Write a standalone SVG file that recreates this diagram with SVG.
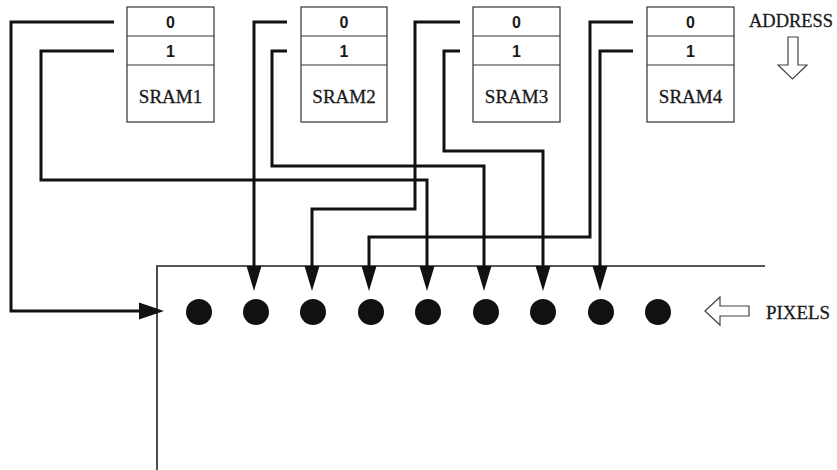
<svg xmlns="http://www.w3.org/2000/svg" width="837" height="470" viewBox="0 0 837 470">
<defs>
<style>
.box{fill:#fff;stroke:#333;stroke-width:1.2}
.num{font-family:"Liberation Sans",Arial,sans-serif;font-size:16px;font-weight:bold;fill:#1a1a1a;text-anchor:middle}
.lbl{font-family:"Liberation Serif","Times New Roman",serif;font-size:19px;fill:#1a1a1a;stroke:#1a1a1a;stroke-width:0.3}
.wire{fill:none;stroke:#111;stroke-width:3;stroke-linejoin:miter}
.head{fill:#111}
.frame{fill:none;stroke:#222;stroke-width:1.6}
.pix{fill:#111}
.hollow{fill:#fff;stroke:#444;stroke-width:1.2}
</style>
</defs>
<rect width="837" height="470" fill="#fff"/>
<g id="sram1">
<rect class="box" x="127" y="7" width="87" height="115"/>
<line class="box" x1="127" y1="36" x2="214" y2="36"/>
<line class="box" x1="127" y1="65" x2="214" y2="65"/>
<text class="num" x="170.5" y="28">0</text>
<text class="num" x="170.5" y="57">1</text>
<text class="lbl" x="170.5" y="103" text-anchor="middle">SRAM1</text>
</g>
<g id="sram2">
<rect class="box" x="301" y="7" width="86" height="115"/>
<line class="box" x1="301" y1="36" x2="387" y2="36"/>
<line class="box" x1="301" y1="65" x2="387" y2="65"/>
<text class="num" x="344" y="28">0</text>
<text class="num" x="344" y="57">1</text>
<text class="lbl" x="344" y="103" text-anchor="middle">SRAM2</text>
</g>
<g id="sram3">
<rect class="box" x="473" y="7" width="87" height="115"/>
<line class="box" x1="473" y1="36" x2="560" y2="36"/>
<line class="box" x1="473" y1="65" x2="560" y2="65"/>
<text class="num" x="516.5" y="28">0</text>
<text class="num" x="516.5" y="57">1</text>
<text class="lbl" x="516.5" y="103" text-anchor="middle">SRAM3</text>
</g>
<g id="sram4">
<rect class="box" x="647" y="7" width="87" height="115"/>
<line class="box" x1="647" y1="36" x2="734" y2="36"/>
<line class="box" x1="647" y1="65" x2="734" y2="65"/>
<text class="num" x="690.5" y="28">0</text>
<text class="num" x="690.5" y="57">1</text>
<text class="lbl" x="690.5" y="103" text-anchor="middle">SRAM4</text>
</g>
<g id="address">
<text class="lbl" x="749" y="27" textLength="84" lengthAdjust="spacingAndGlyphs">ADDRESS</text>
<path class="hollow" d="M788,37 L798,37 L798,65 L807,65 L792.5,79 L778,65 L788,65 z"/>
</g>
<g id="frame">
<polyline class="frame" points="765,266 157,266 157,470"/>
</g>
<g id="pixels">
<circle class="pix" cx="199" cy="312" r="13"/>
<circle class="pix" cx="256" cy="312" r="13"/>
<circle class="pix" cx="313" cy="312" r="13"/>
<circle class="pix" cx="371" cy="312" r="13"/>
<circle class="pix" cx="428" cy="312" r="13"/>
<circle class="pix" cx="486" cy="312" r="13"/>
<circle class="pix" cx="543" cy="312" r="13"/>
<circle class="pix" cx="601" cy="312" r="13"/>
<circle class="pix" cx="658" cy="312" r="13"/>
</g>
<g id="pixels-label">
<path class="hollow" d="M705,311 L720,297 L720,306 L749,306 L749,316 L720,316 L720,325 z"/>
<text class="lbl" x="766" y="319" textLength="64" lengthAdjust="spacingAndGlyphs">PIXELS</text>
</g>
<g id="connectors">
<polyline class="wire" points="114,22 11,22 11,311 142,311"/>
<polygon class="head" points="164,311 139,302.5 139,319.5"/>
<polyline class="wire" points="114,51 41,51 41,180 427,180 427,270"/>
<polygon class="head" points="427,291 419.5,266 434.5,266"/>
<polyline class="wire" points="287,22 254,22 254,270"/>
<polygon class="head" points="254,291 246.5,266 261.5,266"/>
<polyline class="wire" points="287,51 272,51 272,166 484,166 484,270"/>
<polygon class="head" points="484,291 476.5,266 491.5,266"/>
<polyline class="wire" points="460,22 415,22 415,209 312,209 312,270"/>
<polygon class="head" points="312,291 304.5,266 319.5,266"/>
<polyline class="wire" points="460,51 444,51 444,151 543,151 543,270"/>
<polygon class="head" points="543,291 535.5,266 550.5,266"/>
<polyline class="wire" points="633,22 590,22 590,237 369,237 369,270"/>
<polygon class="head" points="369,291 361.5,266 376.5,266"/>
<polyline class="wire" points="633,51 600,51 600,270"/>
<polygon class="head" points="600,291 592.5,266 607.5,266"/>
</g>
</svg>
